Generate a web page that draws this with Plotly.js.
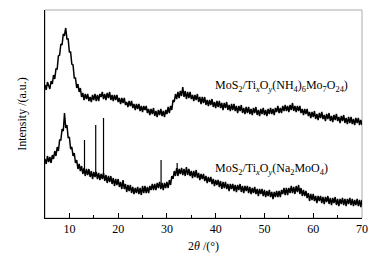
<!DOCTYPE html>
<html>
<head>
<meta charset="utf-8">
<script src="https://cdn.plot.ly/plotly-3.0.1.min.js"></script>
<style>
  html, body { margin: 0; padding: 0; background: #fff; }
  #xrd { width: 390px; height: 259px; }
</style>
</head>
<body>
<div id="xrd"></div>
<script>
// 2theta grid, 5..70 in 0.25 deg steps
var twoTheta = [];
for (var i = 0; i <= 260; i++) twoTheta.push(5 + i * 0.25);

// MoS2/TixOy from (NH4)6Mo7O24 (upper pattern, offset)
var yAmmonium = [
  133, 128, 136, 131, 129, 137, 134, 143, 139, 149, 149, 162, 163, 174, 173, 184,
  183, 190, 179, 179, 166, 166, 154, 153, 140, 140, 130, 134, 126, 130, 121, 125,
  118, 124, 119, 124, 117, 121, 116, 123, 118, 124, 117, 123, 117, 124, 121, 126,
  119, 124, 118, 125, 120, 126, 118, 123, 117, 123, 118, 123, 116, 120, 114, 120,
  115, 120, 113, 116, 111, 117, 112, 117, 110, 114, 108, 114, 109, 114, 107, 112,
  106, 112, 108, 112, 105, 109, 103, 109, 104, 110, 102, 107, 101, 108, 103, 109,
  102, 107, 101, 108, 104, 111, 105, 112, 108, 118, 116, 124, 119, 126, 120, 127,
  122, 131, 121, 127, 119, 126, 120, 126, 119, 123, 117, 123, 118, 124, 116, 121,
  114, 121, 115, 121, 113, 118, 112, 118, 113, 119, 111, 116, 110, 117, 111, 117,
  110, 115, 108, 115, 110, 116, 108, 113, 107, 114, 108, 114, 107, 112, 105, 112,
  107, 113, 105, 110, 104, 111, 105, 111, 104, 109, 103, 110, 105, 111, 103, 108,
  102, 109, 104, 110, 103, 108, 102, 109, 104, 110, 104, 109, 103, 110, 106, 112,
  105, 110, 105, 112, 107, 113, 107, 112, 106, 113, 108, 115, 107, 112, 106, 112,
  107, 112, 105, 109, 103, 109, 104, 109, 102, 106, 100, 106, 101, 107, 99, 104,
  98, 105, 100, 106, 99, 103, 97, 104, 99, 105, 97, 102, 96, 103, 98, 104,
  97, 101, 95, 102, 97, 103, 95, 100, 94, 101, 95, 101, 94, 99, 93, 100,
  95, 100, 93, 98, 93
];

// MoS2/TixOy from Na2MoO4 (lower pattern)
var ySodium = [
  59, 54, 62, 56, 61, 55, 63, 59, 67, 62, 71, 67, 78, 78, 89, 87,
  105, 90, 93, 80, 81, 69, 71, 62, 65, 55, 58, 49, 54, 47, 52, 44,
  50, 42, 49, 43, 49, 41, 47, 39, 46, 41, 46, 39, 45, 38, 44, 39,
  45, 37, 43, 35, 42, 36, 42, 34, 40, 32, 39, 33, 39, 31, 36, 29,
  38, 29, 34, 26, 33, 27, 33, 25, 31, 24, 30, 25, 31, 24, 30, 23,
  32, 25, 32, 25, 31, 25, 32, 28, 34, 28, 34, 28, 35, 30, 36, 29,
  35, 28, 35, 30, 36, 30, 38, 33, 42, 39, 47, 42, 50, 42, 49, 44,
  50, 43, 49, 42, 51, 43, 49, 42, 47, 40, 47, 41, 48, 40, 45, 38,
  44, 39, 44, 37, 42, 35, 41, 36, 41, 34, 39, 32, 38, 33, 38, 31,
  37, 29, 36, 30, 36, 29, 34, 27, 34, 29, 34, 27, 33, 26, 33, 28,
  34, 26, 32, 25, 32, 27, 32, 25, 31, 24, 30, 25, 31, 24, 29, 22,
  29, 24, 29, 22, 28, 21, 27, 22, 28, 21, 26, 19, 26, 21, 27, 21,
  27, 21, 28, 24, 30, 23, 30, 23, 30, 25, 32, 25, 31, 24, 32, 26,
  33, 24, 30, 22, 28, 22, 27, 20, 25, 17, 24, 18, 24, 17, 22, 15,
  22, 17, 22, 15, 21, 14, 21, 16, 22, 14, 20, 13, 20, 15, 21, 13,
  19, 12, 19, 14, 20, 13, 19, 12, 19, 14, 20, 13, 19, 12, 18, 13,
  19, 12, 18, 11, 18
];

// sharp reflections on the Na2MoO4 pattern
var spikeTheta = [13.1, 15.4, 17.0, 28.8, 32.1];
var spikeBase  = [48, 44, 43, 34, 46];
var spikeTop   = [78, 93, 100, 58, 55];

var sx = [], sy = [];
spikeTheta.forEach(function (x, k) {
    sx.push(x, x, null);
    sy.push(spikeBase[k], spikeTop[k], null);
});

var lineStyle = { color: '#000', width: 1.5 };

var traces = [
    { x: twoTheta, y: yAmmonium, type: 'scatter', mode: 'lines', line: lineStyle, hoverinfo: 'skip' },
    { x: twoTheta, y: ySodium, type: 'scatter', mode: 'lines', line: lineStyle, hoverinfo: 'skip' },
    { x: sx, y: sy, type: 'scatter', mode: 'lines', line: { color: '#000', width: 1.2 }, hoverinfo: 'skip' }
];

var serif = 'Liberation Serif, Times New Roman, serif';

var layout = {
    width: 390,
    height: 259,
    margin: { l: 45, r: 28, t: 10, b: 41 },
    paper_bgcolor: '#fff',
    plot_bgcolor: '#fff',
    showlegend: false,
    font: { family: serif, size: 11, color: '#000' },
    xaxis: {
        range: [5, 70],
        tickvals: [10, 20, 30, 40, 50, 60, 70],
        ticks: 'inside',
        ticklen: 5,
        tickcolor: '#000',
        minor: { tickvals: [15, 25, 35, 45, 55, 65], ticks: 'inside', ticklen: 3, tickcolor: '#000' },
        showgrid: false,
        zeroline: false,
        showline: true,
        linecolor: '#000',
        linewidth: 1,
        tickfont: { family: serif, size: 12 },
        title: { text: '2<i>θ</i> /(°)', font: { family: serif, size: 12 }, standoff: 6 }
    },
    yaxis: {
        range: [0, 208],
        showticklabels: false,
        ticks: '',
        showgrid: false,
        zeroline: false,
        showline: true,
        linecolor: '#000',
        linewidth: 1,
        title: { text: 'Intensity /(a.u.)', font: { family: serif, size: 12 }, standoff: 14 }
    },
    shapes: [{
        type: 'rect', xref: 'paper', yref: 'paper', x0: 0, x1: 1, y0: 0, y1: 1,
        line: { color: '#aaa', width: 1 }, layer: 'below'
    }],
    annotations: [
        {
            x: 39.5, y: 132, xref: 'x', yref: 'y', xanchor: 'left', yanchor: 'middle', showarrow: false,
            text: 'MoS<sub>2</sub>/Ti<sub><i>x</i></sub>O<sub><i>y</i></sub>(NH<sub>4</sub>)<sub>6</sub>Mo<sub>7</sub>O<sub>24</sub>)',
            font: { family: serif, size: 12, color: '#000' }
        },
        {
            x: 39.5, y: 49, xref: 'x', yref: 'y', xanchor: 'left', yanchor: 'middle', showarrow: false,
            text: 'MoS<sub>2</sub>/Ti<sub><i>x</i></sub>O<sub><i>y</i></sub>(Na<sub>2</sub>MoO<sub>4</sub>)',
            font: { family: serif, size: 12, color: '#000' }
        }
    ]
};

Plotly.newPlot('xrd', traces, layout, { displayModeBar: false, staticPlot: true });
</script>
</body>
</html>
